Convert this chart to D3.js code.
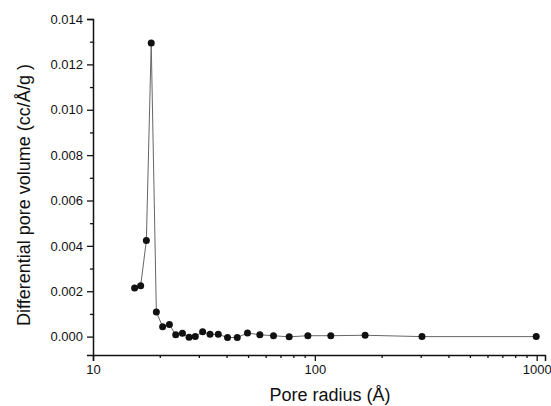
<!DOCTYPE html>
<html>
<head>
<meta charset="utf-8">
<script src="https://cdn.jsdelivr.net/npm/d3@7"></script>
<style>
  body { margin: 0; background: #fff; }
  text { font-family: "Liberation Sans", Arial, sans-serif; fill: #111; }
</style>
</head>
<body>
<div id="chart"></div>
<script>
// pore radius (Å) and differential pore volume (cc/Å/g)
const radius = [15.4, 16.4, 17.4, 18.3, 19.3, 20.6, 22.1, 23.6, 25.3, 27.1, 28.9, 31.2, 33.7,
  36.7, 40.4, 44.7, 49.7, 56.5, 65.1, 76.6, 93.0, 118, 168.5, 304, 995];
const volume = [0.00214, 0.00224, 0.00424, 0.01294, 0.00109, 0.00043, 0.00053, 0.00008, 0.00015,
  -0.00003, 0.0, 0.00022, 0.0001, 0.0001, -0.00004, -0.00004, 0.00016, 0.00008, 0.00004,
  -0.00001, 0.00004, 0.00004, 0.00006, 0.0, 0.0];

const xMajor = [10, 100, 1000];
const xMinor = [20, 30, 40, 50, 60, 70, 80, 90, 200, 300, 400, 500, 600, 700, 800, 900];
const yMajor = [0, 0.002, 0.004, 0.006, 0.008, 0.010, 0.012, 0.014];
const yMinor = [0.001, 0.003, 0.005, 0.007, 0.009, 0.011, 0.013];

const width = 551, height = 406;
const margin = { left: 93, right: 6, top: 19, bottom: 51 };

const svg = d3.select("#chart").append("svg")
  .attr("width", width)
  .attr("height", height);

const x = d3.scaleLog()
  .domain([10, 1090])
  .range([margin.left, width - margin.right]);

const y = d3.scaleLinear()
  .domain([-0.00081, 0.014])
  .range([height - margin.bottom, margin.top]);

const bottom = height - margin.bottom;

// Axes
const gx = svg.append("g").attr("transform", `translate(0,${bottom})`);
gx.call(d3.axisBottom(x).tickValues(xMajor).tickFormat(d3.format("d")).tickSize(6).tickPadding(4));
const gxm = svg.append("g").attr("transform", `translate(0,${bottom})`);
gxm.call(d3.axisBottom(x).tickValues(xMinor).tickFormat("").tickSize(3));

const gy = svg.append("g").attr("transform", `translate(${margin.left},0)`);
gy.call(d3.axisLeft(y).tickValues(yMajor).tickFormat(d3.format(".3f")).tickSize(6).tickPadding(4));
const gym = svg.append("g").attr("transform", `translate(${margin.left},0)`);
gym.call(d3.axisLeft(y).tickValues(yMinor).tickFormat("").tickSize(3));

svg.selectAll(".domain").attr("stroke", "#111").attr("stroke-width", 1.5);
gxm.select(".domain").remove();
gym.select(".domain").remove();
svg.selectAll(".tick line").attr("stroke", "#111").attr("stroke-width", 1.3);
svg.selectAll(".tick text").style("font-size", "13px").attr("fill", "#111");

// Line and points
const pts = radius.map((r, i) => [r, volume[i]]);

svg.append("path")
  .datum(pts)
  .attr("fill", "none")
  .attr("stroke", "#666")
  .attr("stroke-width", 1)
  .attr("d", d3.line().x(d => x(d[0])).y(d => y(d[1])));

svg.selectAll(".pt")
  .data(pts)
  .enter()
  .append("circle")
  .attr("cx", d => x(d[0]))
  .attr("cy", d => y(d[1]))
  .attr("r", 3.5)
  .attr("fill", "#111");

// Titles
svg.append("text")
  .attr("x", 330)
  .attr("y", 401)
  .attr("text-anchor", "middle")
  .style("font-size", "18px")
  .text("Pore radius (Å)");

svg.append("text")
  .attr("transform", `translate(30,${(margin.top + bottom) / 2 + 8}) rotate(-90)`)
  .attr("text-anchor", "middle")
  .style("font-size", "18px")
  .text("Differential pore volume (cc/Å/g )");
</script>
</body>
</html>
